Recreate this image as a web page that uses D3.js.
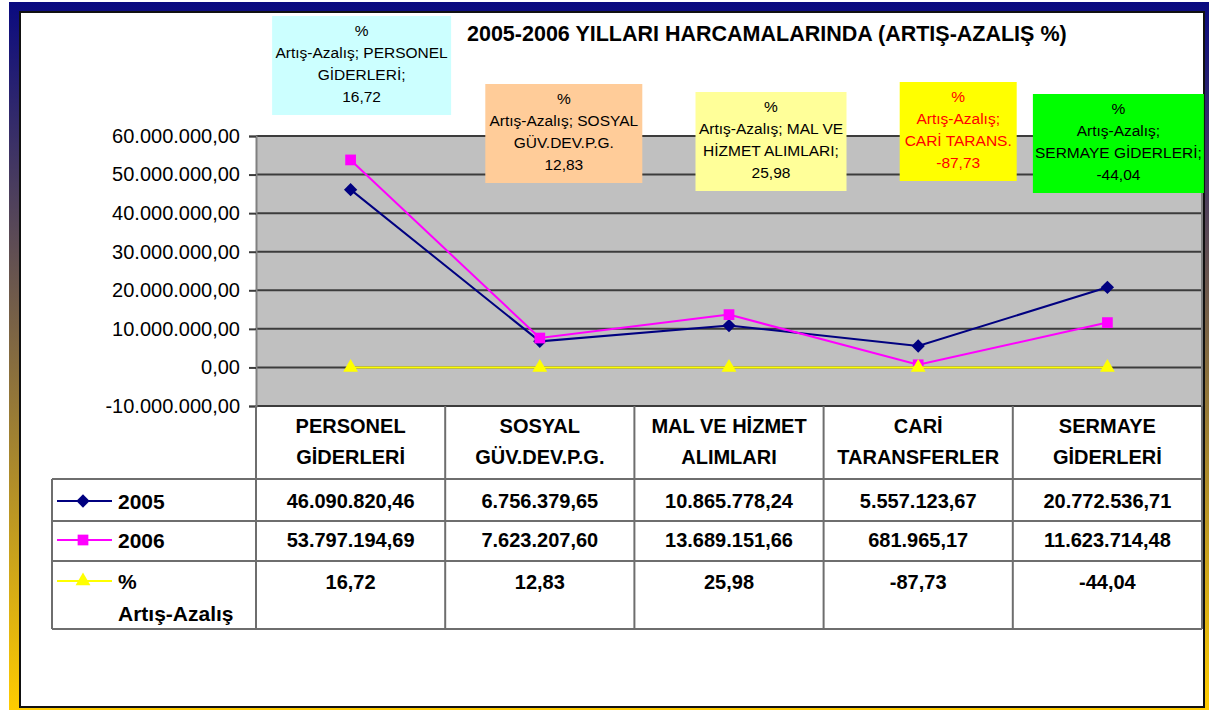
<!DOCTYPE html>
<html>
<head>
<meta charset="utf-8">
<script src="https://cdn.jsdelivr.net/npm/d3@7"></script>
<style>
  body { margin: 0; background: #fff; }
  text { font-family: Arial, 'Liberation Sans', sans-serif; }
</style>
</head>
<body>
<svg id="chart" width="1210" height="710"></svg>
<script>
// chart data
const categories = [
  ['PERSONEL', 'GİDERLERİ'],
  ['SOSYAL', 'GÜV.DEV.P.G.'],
  ['MAL VE HİZMET', 'ALIMLARI'],
  ['CARİ', 'TARANSFERLER'],
  ['SERMAYE', 'GİDERLERİ']
];
const values2005 = [46090820.46, 6756379.65, 10865778.24, 5557123.67, 20772536.71];
const values2006 = [53797194.69, 7623207.60, 13689151.66, 681965.17, 11623714.48];
const percentChange = [16.72, 12.83, 25.98, -87.73, -44.04];
const yTicks = [-10000000, 0, 10000000, 20000000, 30000000, 40000000, 50000000, 60000000];
const labelNames = [
  ['Artış-Azalış; PERSONEL', 'GİDERLERİ;'],
  ['Artış-Azalış; SOSYAL', 'GÜV.DEV.P.G.'],
  ['Artış-Azalış; MAL VE', 'HİZMET ALIMLARI;'],
  ['Artış-Azalış;', 'CARİ TARANS.'],
  ['Artış-Azalış;', 'SERMAYE GİDERLERİ;']
];

// label box layout (manually placed in the original)
const boxLayout = [
  { dx: 11, top: 16, w: 179, fill: '#ccffff', color: '#000' },
  { dx: 24, top: 84, w: 157, fill: '#ffcc99', color: '#000' },
  { dx: 42, top: 92, w: 151, fill: '#ffff99', color: '#000' },
  { dx: 40, top: 82, w: 117, fill: '#ffff00', color: '#ff0000' },
  { dx: 11, top: 94, w: 171, fill: '#00ff00', color: '#000' }
];

const tr = d3.formatLocale({ decimal: ',', thousands: '.', grouping: [3], currency: ['', ''], minus: '-' });
const fmt = tr.format(',.2f');

const svg = d3.select('#chart');

// frame
const defs = svg.append('defs');
const grad = defs.append('linearGradient')
  .attr('id', 'frameGrad').attr('x1', 0).attr('y1', 0).attr('x2', 0).attr('y2', 1);
grad.append('stop').attr('offset', '0%').attr('stop-color', '#0a0a80');
grad.append('stop').attr('offset', '100%').attr('stop-color', '#ffcc00');

svg.append('rect').attr('x', 9).attr('y', 2).attr('width', 1200).attr('height', 708)
  .attr('fill', 'url(#frameGrad)');
svg.append('rect').attr('x', 20).attr('y', 12).attr('width', 1184).attr('height', 695)
  .attr('fill', '#fff').attr('stroke', '#111').attr('stroke-width', 2);

const plotLeft = 256, plotRight = 1202, plotTop = 136, plotBottom = 406;

const x = d3.scaleBand().domain(d3.range(categories.length)).range([plotLeft, plotRight]);
const cx = (i) => x(i) + x.bandwidth() / 2;
const y = d3.scaleLinear().domain([-10000000, 60000000]).range([plotBottom, plotTop]);

// plot area
svg.append('rect').attr('x', plotLeft).attr('y', plotTop)
  .attr('width', plotRight - plotLeft).attr('height', plotBottom - plotTop)
  .attr('fill', '#c0c0c0');

// gridlines
svg.append('g').selectAll('line').data(yTicks).enter().append('line')
  .attr('x1', plotLeft).attr('x2', plotRight)
  .attr('y1', (d) => y(d)).attr('y2', (d) => y(d))
  .attr('stroke', '#3c3c3c').attr('stroke-width', 2);

svg.append('line').attr('x1', plotRight).attr('x2', plotRight)
  .attr('y1', plotTop).attr('y2', plotBottom)
  .attr('stroke', '#808080').attr('stroke-width', 2);

// y axis
const yAxis = d3.axisLeft(y).tickValues(yTicks).tickFormat(fmt).tickSize(7).tickPadding(9);
const yg = svg.append('g').attr('transform', `translate(${plotLeft},0)`).call(yAxis);
yg.select('.domain').attr('stroke', '#808080').attr('stroke-width', 2);
yg.selectAll('.tick line').attr('stroke', '#3c3c3c').attr('stroke-width', 2);
yg.selectAll('.tick text').attr('font-size', 20).attr('fill', '#000')
  .style('font-family', 'Arial, "Liberation Sans", sans-serif');

// data table
const rowY = [406, 479, 521, 561, 629];
const tableLeft = 52;
const tbl = svg.append('g').attr('stroke', '#6e6e6e').attr('stroke-width', 2);
rowY.slice(1).forEach((ry) => {
  tbl.append('line').attr('x1', tableLeft).attr('x2', plotRight).attr('y1', ry).attr('y2', ry);
});
tbl.append('line').attr('x1', tableLeft).attr('x2', tableLeft).attr('y1', rowY[1]).attr('y2', rowY[4]);
d3.range(categories.length + 1).forEach((i) => {
  const lx = i < categories.length ? x(i) : plotRight;
  tbl.append('line').attr('x1', lx).attr('x2', lx).attr('y1', plotBottom).attr('y2', rowY[4]);
});

// category headers
const head = svg.append('g').attr('font-size', 20).attr('font-weight', 'bold')
  .attr('text-anchor', 'middle').attr('fill', '#000');
categories.forEach((c, i) => {
  head.append('text').attr('x', cx(i)).attr('y', 433).text(c[0]);
  head.append('text').attr('x', cx(i)).attr('y', 464).text(c[1]);
});

// table values
const cells = svg.append('g').attr('font-size', 20).attr('font-weight', 'bold')
  .attr('text-anchor', 'middle').attr('fill', '#000');
values2005.forEach((v, i) => cells.append('text').attr('x', cx(i)).attr('y', 508).text(fmt(v)));
values2006.forEach((v, i) => cells.append('text').attr('x', cx(i)).attr('y', 547).text(fmt(v)));
percentChange.forEach((v, i) => cells.append('text').attr('x', cx(i)).attr('y', 589).text(fmt(v)));

// series
const series = [
  { name: '2005', values: values2005, color: '#000080', shape: d3.symbolSquare, size: 88, rot: 45, rowY: 501 },
  { name: '2006', values: values2006, color: '#ff00ff', shape: d3.symbolSquare, size: 115, rot: 0, rowY: 540 },
  { name: '%', values: percentChange, color: '#ffff00', shape: d3.symbolTriangle, size: 95, rot: 0, rowY: 581 }
];

const line = d3.line().x((d, i) => cx(i)).y((d) => y(d));

series.forEach((s) => {
  svg.append('path').datum(s.values).attr('d', line)
    .attr('fill', 'none').attr('stroke', s.color).attr('stroke-width', 2);
  svg.append('g').selectAll('path').data(s.values).enter().append('path')
    .attr('d', d3.symbol().type(s.shape).size(s.size))
    .attr('transform', (d, i) => `translate(${cx(i)},${y(d)}) rotate(${s.rot})`)
    .attr('fill', s.color);

  // legend key in table
  svg.append('line').attr('x1', 57).attr('x2', 112).attr('y1', s.rowY).attr('y2', s.rowY)
    .attr('stroke', s.color).attr('stroke-width', 2);
  svg.append('path').attr('d', d3.symbol().type(s.shape).size(s.size))
    .attr('transform', `translate(83,${s.rowY}) rotate(${s.rot})`).attr('fill', s.color);
  svg.append('text').attr('x', 118).attr('y', s.rowY + 8)
    .attr('font-size', 21).attr('font-weight', 'bold').text(s.name);
});
svg.append('text').attr('x', 118).attr('y', 621)
  .attr('font-size', 21).attr('font-weight', 'bold').text('Artış-Azalış');

// data label boxes
boxLayout.forEach((b, i) => {
  const bx = cx(i) + b.dx;
  svg.append('rect').attr('x', bx - b.w / 2).attr('y', b.top)
    .attr('width', b.w).attr('height', 99).attr('fill', b.fill);
  const lines = ['%', labelNames[i][0], labelNames[i][1], fmt(percentChange[i])];
  lines.forEach((t, k) => {
    svg.append('text').attr('x', bx).attr('y', b.top + 19.5 + k * 22)
      .attr('text-anchor', 'middle').attr('font-size', 15.5).attr('fill', b.color).text(t);
  });
});

// title
svg.append('text').attr('x', 467).attr('y', 41)
  .attr('font-size', 21.5).attr('font-weight', 'bold')
  .text('2005-2006 YILLARI HARCAMALARINDA (ARTIŞ-AZALIŞ %)');
</script>
</body>
</html>
